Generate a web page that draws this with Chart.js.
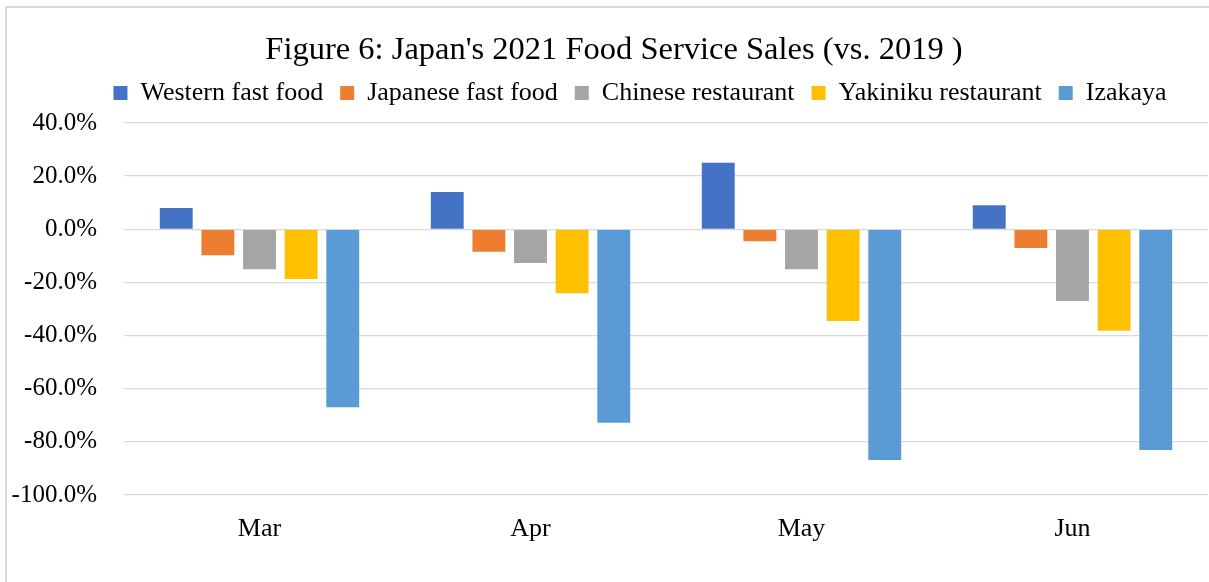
<!DOCTYPE html>
<html>
<head>
<meta charset="utf-8">
<title>Japan's 2021 Food Service Sales</title>
<script src="https://cdn.jsdelivr.net/npm/chart.js@4"></script>
<style>
    html, body {
        margin: 0;
        padding: 0;
        background: #fff;
        overflow: hidden;
    }
    .frame {
        position: absolute;
        left: 5px;
        top: 6px;
        width: 1300px;
        height: 700px;
        border-left: 2px solid #d9d9d9;
        border-top: 2px solid #d9d9d9;
    }
    .chart-box {
        position: absolute;
        left: 0;
        top: 0;
        width: 1209px;
        height: 582px;
    }
</style>
</head>
<body>
<div class="frame"></div>
<div class="chart-box">
    <canvas id="salesChart"></canvas>
</div>
<script>
// Months (categories)
const months = ['Mar', 'Apr', 'May', 'Jun'];

// Sales change vs. 2019, in percent
const westernFastFood = [8, 14, 25, 9];
const japaneseFastFood = [-9.8, -8.5, -4.5, -7];
const chineseRestaurant = [-15, -12.7, -15, -27];
const yakinikuRestaurant = [-18.7, -24.1, -34.5, -38.2];
const izakaya = [-67, -72.8, -86.8, -83.1];

// Y axis ticks
const yMin = -100;
const yMax = 40;
const yStep = 20;

const seriesNames = ['Western fast food', 'Japanese fast food', 'Chinese restaurant', 'Yakiniku restaurant', 'Izakaya'];
const seriesColors = ['#4472c4', '#ed7d31', '#a5a5a5', '#ffc000', '#5b9bd5'];

const serif = "'Liberation Serif', 'Times New Roman', serif";

// Excel-like placement: extra room under the legend, title/legend a bit right of centre
const placementPlugin = {
    id: 'placement',
    beforeInit(chart) {
        const legend = chart.legend;
        if (!legend) return;
        const fit = legend.fit;
        legend.fit = function() {
            fit.call(this);
            this.height += 7;
        };
    },
    afterLayout(chart) {
        if (chart.legend) {
            chart.legend.left += 36;
            chart.legend.right += 36;
        }
        if (chart.titleBlock) {
            chart.titleBlock.left += 10;
            chart.titleBlock.right += 10;
        }
    }
};

function createSalesChart() {
    const ctx = document.getElementById('salesChart')?.getContext('2d');
    if (!ctx) return;

    const values = [westernFastFood, japaneseFastFood, chineseRestaurant, yakinikuRestaurant, izakaya];
    const datasets = values.map((data, index) => {
        return {
            label: seriesNames[index],
            data: data,
            backgroundColor: seriesColors[index],
            borderWidth: 0,
            barPercentage: 0.79,
            categoryPercentage: 0.768
        };
    });

    return new Chart(ctx, {
        type: 'bar',
        data: {
            labels: months,
            datasets: datasets
        },
        plugins: [placementPlugin],
        options: {
            responsive: true,
            maintainAspectRatio: false,
            animation: false,
            layout: {
                padding: { left: 0, right: 1, top: 0, bottom: 0 }
            },
            scales: {
                x: {
                    grid: { display: false },
                    border: { display: false },
                    ticks: {
                        color: '#000',
                        padding: 11,
                        font: { family: serif, size: 26 }
                    },
                    afterFit: (scale) => {
                        scale.height = 87;
                    }
                },
                y: {
                    min: yMin,
                    max: yMax,
                    grid: {
                        color: '#d9d9d9',
                        lineWidth: 1.3,
                        drawTicks: false
                    },
                    border: { display: false },
                    ticks: {
                        stepSize: yStep,
                        color: '#000',
                        padding: 27,
                        font: { family: serif, size: 25 },
                        callback: function(value) {
                            return value.toFixed(1) + '%';
                        }
                    },
                    afterFit: (scale) => {
                        scale.width = 124;
                    }
                }
            },
            plugins: {
                title: {
                    display: true,
                    text: "Figure 6: Japan's 2021 Food Service Sales (vs. 2019 )",
                    color: '#000',
                    font: { family: serif, size: 32.5, weight: 'normal', lineHeight: 1 },
                    padding: { top: 34, bottom: -3.5 }
                },
                legend: {
                    position: 'top',
                    labels: {
                        color: '#000',
                        boxWidth: 14,
                        boxHeight: 14,
                        padding: 17,
                        font: { family: serif, size: 26 }
                    }
                },
                tooltip: { enabled: false }
            }
        }
    });
}

const salesChart = createSalesChart();
</script>
</body>
</html>
